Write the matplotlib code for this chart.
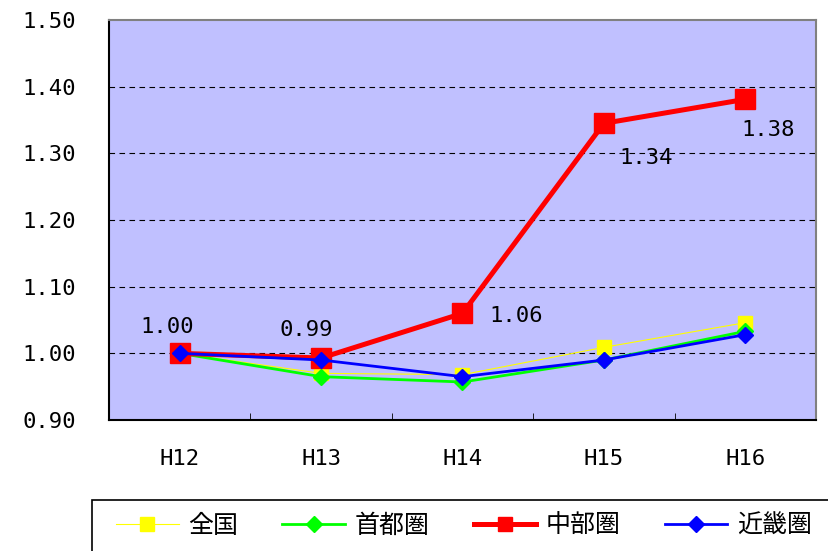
import matplotlib.pyplot as plt
from matplotlib.patches import Rectangle

years = ["H12", "H13", "H14", "H15", "H16"]
zenkoku = [1.00, 0.970, 0.968, 1.009, 1.046]
shutoken = [1.00, 0.965, 0.957, 0.990, 1.033]
chubu = [1.00, 0.993, 1.06, 1.345, 1.381]
kinki = [1.00, 0.990, 0.965, 0.990, 1.028]
chubu_labels = ["1.00", "0.99", "1.06", "1.34", "1.38"]

cjk = ["Noto Sans CJK JP", "DejaVu Sans"]
num_font = "DejaVu Sans Mono"

fig = plt.figure(figsize=(8.29, 5.51), dpi=100)
ax = fig.add_axes([109 / 829, 1 - 420 / 551, 707 / 829, 400 / 551])
ax.set_facecolor("#C0C0FF")

x = list(range(len(years)))
ax.plot(x, zenkoku, color="#FFFF00", lw=0.8, marker="s", ms=10,
        mec="#FFFF00", label="全国", zorder=3)
ax.plot(x, shutoken, color="#00FF00", lw=2, marker="D", ms=8,
        mec="#00FF00", label="首都圏", zorder=4)
ax.plot(x, chubu, color="#FF0000", lw=3.6, marker="s", ms=15,
        mec="#FF0000", label="中部圏", zorder=5)
ax.plot(x, kinki, color="#0000FF", lw=2, marker="D", ms=8,
        mec="#0000FF", label="近畿圏", zorder=6)

# data labels for 中部圏 (offsets in points)
offsets = [(-9, 19, "center"), (-11, 20, "center"), (19, -2, "left"),
           (11, -25, "left"), (-3, -22, "left")]
for i, (dx, dy, ha) in enumerate(offsets):
    ax.annotate(chubu_labels[i], (x[i], chubu[i]), xytext=(dx, dy),
                textcoords="offset points", ha=ha, va="center",
                fontsize=16, family=num_font, zorder=7)

ax.set_xlim(-0.5, 4.5)
ax.set_ylim(0.9, 1.5)
ax.set_yticks([0.9, 1.0, 1.1, 1.2, 1.3, 1.4, 1.5])
ax.set_yticklabels(["%.2f" % v for v in ax.get_yticks()],
                   family=num_font, fontsize=16)
ax.set_xticks(x)
ax.set_xticklabels(years, family=num_font, fontsize=16)
ax.set_xticks([0.5, 1.5, 2.5, 3.5], minor=True)
ax.tick_params(axis="x", which="major", length=0, pad=21)
ax.tick_params(axis="x", which="minor", length=5, direction="in", color="black")
ax.tick_params(axis="y", length=0, pad=24)

for v in [1.0, 1.1, 1.2, 1.3, 1.4]:
    ax.axhline(v, color="black", lw=0.8, ls=(0, (5, 4)), zorder=1)

ax.spines["left"].set_color("black")
ax.spines["bottom"].set_color("black")
ax.spines["left"].set_linewidth(1.5)
ax.spines["bottom"].set_linewidth(1.5)
ax.spines["top"].set_color("#808080")
ax.spines["right"].set_color("#808080")
ax.spines["top"].set_linewidth(1.5)
ax.spines["right"].set_linewidth(1.5)

# legend box runs off the right and bottom edges
fig.patches.append(Rectangle((92 / 829, -0.05), 0.95, 0.05 + 1 - 500 / 551,
                             transform=fig.transFigure, facecolor="white",
                             edgecolor="black", lw=1.2))
leg = fig.legend(loc="center left", bbox_to_anchor=(106 / 829, 1 - 526 / 551),
                 ncol=4, frameon=False, prop={"family": cjk, "size": 18},
                 handlelength=2.5, handletextpad=0.4, columnspacing=1.75,
                 borderaxespad=0)
for line, ms in zip(leg.get_lines(), [10, 8, 10, 8]):
    line.set_markersize(ms)

fig.savefig("out.png", dpi=100)
